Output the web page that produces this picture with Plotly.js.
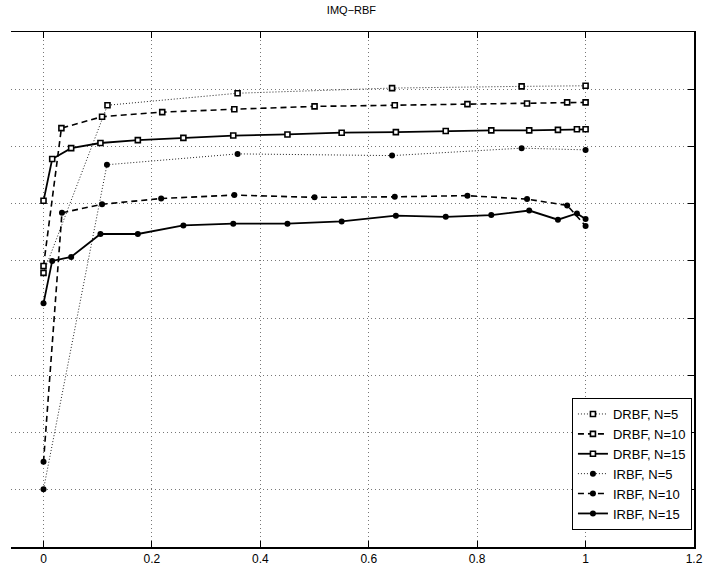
<!DOCTYPE html>
<html>
<head>
<meta charset="utf-8">
<script src="https://cdn.plot.ly/plotly-3.0.1.min.js"></script>
<style>html,body{margin:0;padding:0;background:#fff;}#chart{width:707px;height:572px;}</style>
</head>
<body>
<div id="chart"></div>
<script>
// Data (y axis has no labels; arbitrary units 0..9)
const drbf5X  = [0, 0.118, 0.358, 0.643, 0.882, 1.0];
const drbf5Y  = [4.79, 7.72, 7.93, 8.02, 8.05, 8.06];

const drbf10X = [0, 0.033, 0.108, 0.219, 0.352, 0.5, 0.648, 0.782, 0.892, 0.966, 1.0];
const drbf10Y = [4.91, 7.32, 7.52, 7.60, 7.65, 7.70, 7.72, 7.74, 7.75, 7.77, 7.77];

const drbf15X = [0, 0.016, 0.051, 0.105, 0.174, 0.258, 0.35, 0.45, 0.55, 0.65, 0.742, 0.826, 0.896, 0.949, 0.984, 1.0];
const drbf15Y = [6.05, 6.78, 6.97, 7.06, 7.11, 7.15, 7.19, 7.21, 7.24, 7.25, 7.27, 7.28, 7.28, 7.29, 7.30, 7.30];

const irbf5X  = [0, 0.117, 0.358, 0.643, 0.882, 1.0];
const irbf5Y  = [1.01, 6.68, 6.87, 6.84, 6.97, 6.94];

const irbf10X = [0, 0.034, 0.108, 0.217, 0.352, 0.5, 0.648, 0.782, 0.892, 0.966, 1.0];
const irbf10Y = [1.49, 5.84, 5.99, 6.09, 6.15, 6.11, 6.12, 6.14, 6.08, 5.97, 5.61];

const irbf15X = [0, 0.016, 0.051, 0.105, 0.174, 0.258, 0.35, 0.45, 0.55, 0.65, 0.742, 0.826, 0.896, 0.949, 0.984, 1.0];
const irbf15Y = [4.26, 5.00, 5.07, 5.47, 5.47, 5.62, 5.65, 5.65, 5.69, 5.79, 5.77, 5.80, 5.88, 5.72, 5.83, 5.73];

const seriesNames = ['DRBF, N=5', 'DRBF, N=10', 'DRBF, N=15', 'IRBF, N=5', 'IRBF, N=10', 'IRBF, N=15'];
const xTickVals = [0, 0.2, 0.4, 0.6, 0.8, 1.0, 1.2];
const xTickText = ['0', '0.2', '0.4', '0.6', '0.8', '1', '1.2'];
const yTickVals = [0, 1, 2, 3, 4, 5, 6, 7, 8, 9];

const dotDash = '1px,2px';
const dashDash = '6px,4px';
const gridDash = '1px,3px';

function sq(){ return {symbol:'square', size:5, color:'#fff', line:{color:'#000', width:1.6}}; }
function dot(){ return {symbol:'circle', size:6, color:'#000', line:{color:'#000', width:0}}; }

const traces = [
  {x:drbf5X,  y:drbf5Y,  name:seriesNames[0], mode:'lines+markers', line:{color:'#222', width:1, dash:dotDash}, marker:sq()},
  {x:drbf10X, y:drbf10Y, name:seriesNames[1], mode:'lines+markers', line:{color:'#000', width:1.6, dash:dashDash}, marker:sq()},
  {x:drbf15X, y:drbf15Y, name:seriesNames[2], mode:'lines+markers', line:{color:'#000', width:1.8}, marker:sq()},
  {x:irbf5X,  y:irbf5Y,  name:seriesNames[3], mode:'lines+markers', line:{color:'#222', width:1, dash:dotDash}, marker:dot()},
  {x:irbf10X, y:irbf10Y, name:seriesNames[4], mode:'lines+markers', line:{color:'#000', width:1.6, dash:dashDash}, marker:dot()},
  {x:irbf15X, y:irbf15Y, name:seriesNames[5], mode:'lines+markers', line:{color:'#000', width:1.8}, marker:dot()}
];

const layout = {
  width:707, height:572,
  margin:{l:11, r:13, t:32, b:25, pad:0},
  paper_bgcolor:'#fff', plot_bgcolor:'#fff',
  font:{family:'"Liberation Sans", Arial, sans-serif', size:12, color:'#000'},
  title:{text:'IMQ\u2212RBF', font:{size:11, color:'#000', weight:'normal'}, x:0.4985, xref:'paper', xanchor:'center', y:0.982, yanchor:'middle'},
  showlegend:true,
  legend:{x:0.997, xanchor:'right', y:0.033, yanchor:'bottom', bgcolor:'#fff', bordercolor:'#000', borderwidth:1,
          font:{size:13, color:'#000'}, tracegroupgap:0},
  xaxis:{range:[-0.06, 1.2], tickvals:xTickVals, ticktext:xTickText, ticks:'inside', ticklen:6, tickcolor:'#000',
         showline:true, linecolor:'#000', linewidth:1.5, mirror:'ticks', zeroline:false,
         showgrid:true, gridcolor:'#777', griddash:gridDash, gridwidth:1, tickfont:{size:12}},
  yaxis:{range:[0, 9], tickvals:yTickVals, showticklabels:false, ticks:'inside', ticklen:6, tickcolor:'#000',
         side:'right', showline:true, linecolor:'#000', linewidth:1.5, mirror:false, zeroline:false,
         showgrid:true, gridcolor:'#777', griddash:gridDash, gridwidth:1}
};

Plotly.newPlot('chart', traces, layout, {displayModeBar:false, staticPlot:true});
</script>
</body>
</html>
